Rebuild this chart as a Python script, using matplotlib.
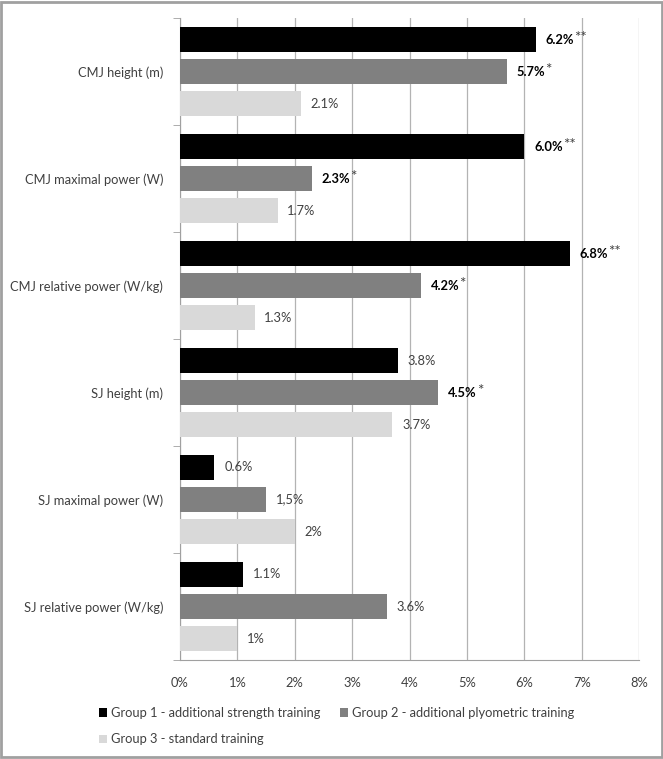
import matplotlib.pyplot as plt
from matplotlib.patches import Rectangle
import numpy as np

plt.rcParams['font.family'] = ['Lato', 'DejaVu Sans']

categories = ["CMJ height (m)", "CMJ maximal power (W)", "CMJ relative power (W/kg)",
              "SJ height (m)", "SJ maximal power (W)", "SJ relative power (W/kg)"]
group_names = ["Group 1 - additional strength training",
               "Group 2 - additional plyometric training",
               "Group 3 - standard training"]
g1 = [6.2, 6.0, 6.8, 3.8, 0.6, 1.1]
g2 = [5.7, 2.3, 4.2, 4.5, 1.5, 3.6]
g3 = [2.1, 1.7, 1.3, 3.7, 2.0, 1.0]
# (number, stars, bold)
g1_labels = [("6.2%", "**", True), ("6.0%", "**", True), ("6.8%", "**", True),
             ("3.8%", "", False), ("0.6%", "", False), ("1.1%", "", False)]
g2_labels = [("5.7%", "*", True), ("2.3%", "*", True), ("4.2%", "*", True),
             ("4.5%", "*", True), ("1,5%", "", False), ("3.6%", "", False)]
g3_labels = [("2.1%", "", False), ("1.7%", "", False), ("1.3%", "", False),
             ("3.7%", "", False), ("2%", "", False), ("1%", "", False)]
colors = ["#000000", "#808080", "#d9d9d9"]
text_color = "#404040"
fs = 9.3

fig = plt.figure(figsize=(6.63, 7.59), dpi=100)
ax = fig.add_axes([0.2715, 0.1304, 0.6925, 0.8456])

n = len(categories)
centers = np.arange(n)
bh = 0.234
step = 0.3
series = [(g1, g1_labels), (g2, g2_labels), (g3, g3_labels)]
handles = []
for k, (vals, labs) in enumerate(series):
    ys = centers + (k - 1) * step
    b = ax.barh(ys, vals, height=bh, color=colors[k], label=group_names[k], zorder=3)
    handles.append(b)
    for y, v, (num, stars, bold) in zip(ys, vals, labs):
        t = ax.annotate(num, xy=(v, y), xytext=(7, 0), textcoords='offset points',
                        va='center', ha='left', fontsize=fs,
                        fontweight='bold' if bold else 'normal',
                        color='#000000' if bold else text_color)
        if stars:
            ax.annotate(stars, xy=(1, 0.62), xycoords=t, va='center', ha='left',
                        fontsize=11, color=text_color)

ax.set_ylim(n - 0.5, -0.5)
ax.set_xlim(0, 8)
ax.set_xticks(np.arange(0, 9, 1))
ax.set_xticklabels([f"{i}%" for i in range(9)], fontsize=fs, color=text_color)
ax.tick_params(axis='x', length=0, pad=12)
ax.set_yticks(centers)
ax.set_yticklabels(categories, fontsize=fs, color=text_color)
ax.tick_params(axis='y', length=0, pad=12)
ax.set_yticks(np.arange(-0.5, n, 1), minor=True)
ax.tick_params(axis='y', which='minor', length=5, color='#a0a0a0', direction='out')
ax.grid(axis='x', color='#b3b3b3', linewidth=0.9, zorder=0)
for s in ['top', 'right']:
    ax.spines[s].set_visible(False)
for s in ['left', 'bottom']:
    ax.spines[s].set_color('#a0a0a0')

order = [0, 2, 1]
leg = fig.legend([handles[i] for i in order], [group_names[i] for i in order],
                 loc='upper left', bbox_to_anchor=(0.141, 0.075), ncol=2, frameon=False,
                 fontsize=fs, handlelength=0.65, handleheight=0.65, handletextpad=0.3,
                 columnspacing=1.5, labelspacing=1.1, borderaxespad=0)
for txt in leg.get_texts():
    txt.set_color(text_color)

fig.patches.append(Rectangle((0.002, 0.002), 0.996, 0.995, transform=fig.transFigure,
                             fill=False, edgecolor='#a0a0a0', linewidth=2))

fig.savefig("out.png", dpi=100)
